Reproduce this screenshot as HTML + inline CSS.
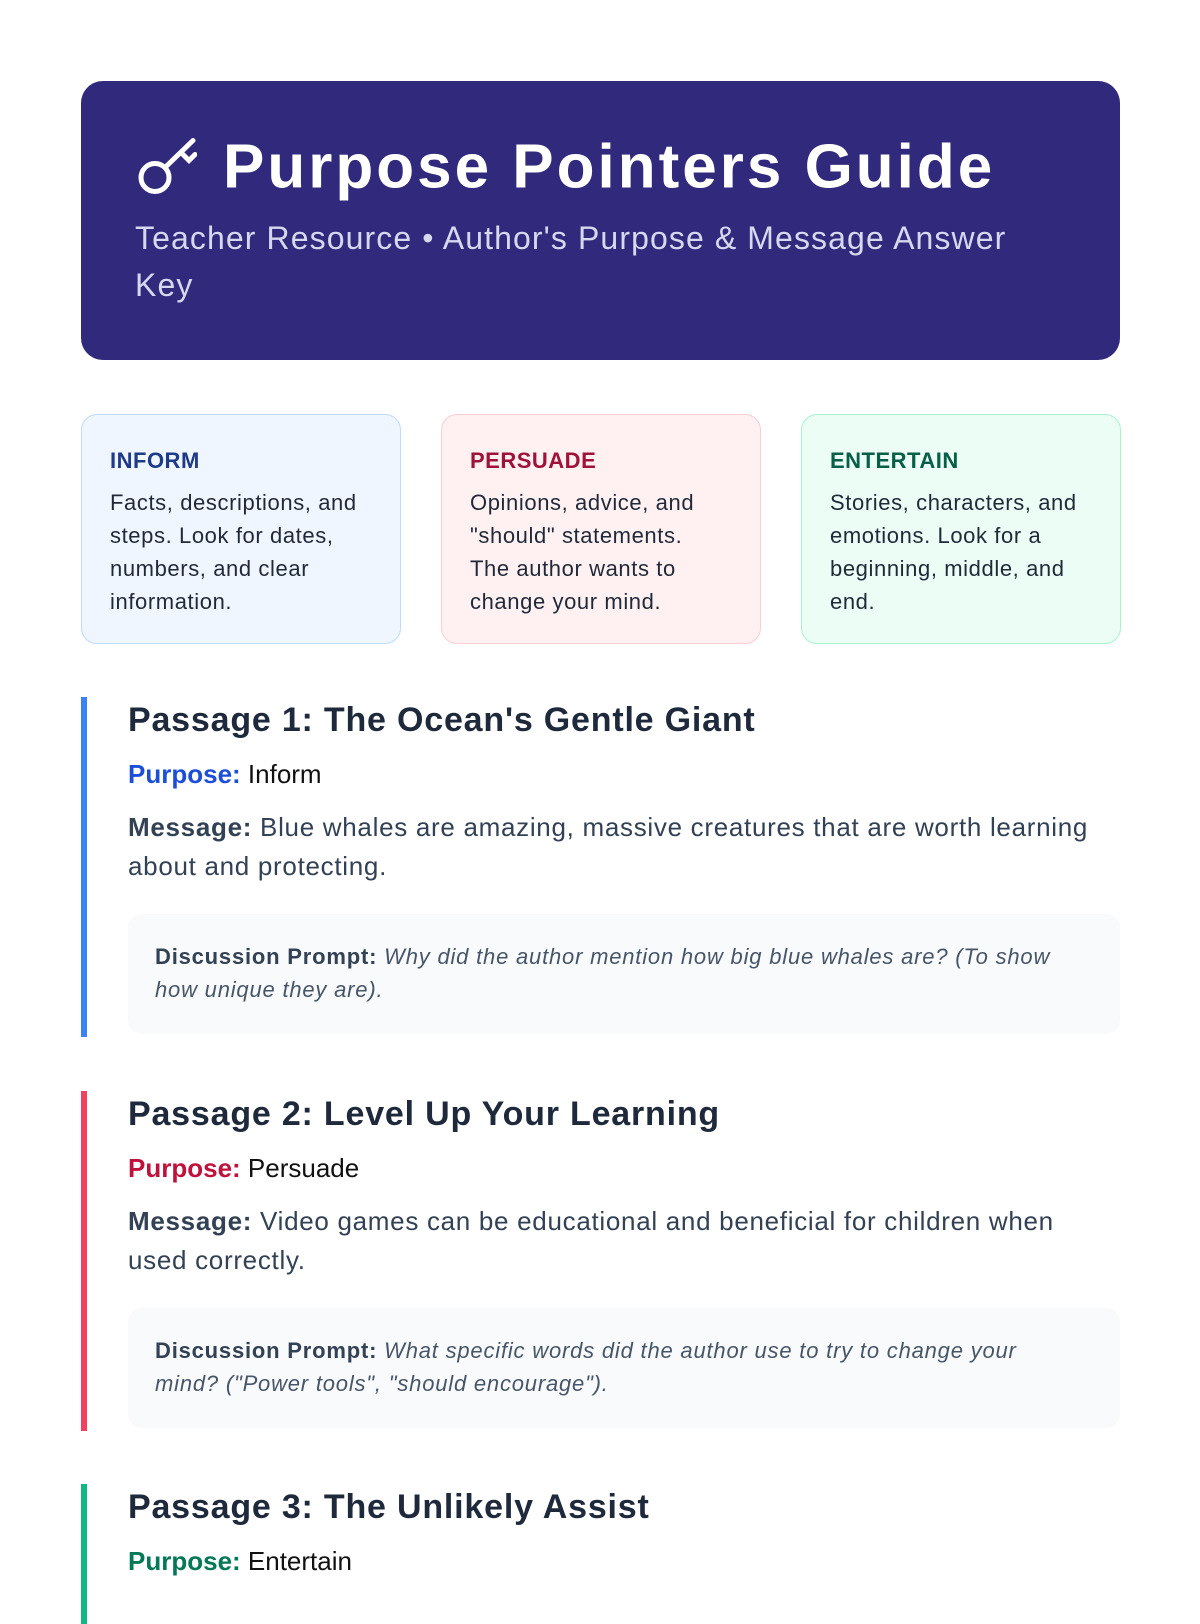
<!DOCTYPE html>
<html><head><meta charset="utf-8"><style>
*{box-sizing:border-box;margin:0;padding:0}
body{width:1200px;height:1600px;background:#fff;font-family:"Liberation Sans",sans-serif;overflow:hidden;position:relative;color:#1e293b}
.hdr{position:absolute;left:81px;top:81px;width:1039px;height:279px;background:#312a7c;border-radius:22px;color:#fff}
.hdr h1{position:absolute;left:54px;top:86px;transform:translateY(-50%);font-size:62px;font-weight:900;letter-spacing:3px;display:flex;align-items:center;gap:26px;white-space:nowrap}
.hdr .sub{position:absolute;left:54px;top:134px;width:920px;font-size:32px;line-height:47px;color:#d6d8f0;letter-spacing:1.1px}
.card{position:absolute;top:414px;width:320px;height:230px;border-radius:16px;padding:30px 40px 30px 28px;border:1.5px solid}
.card h3{font-size:22px;font-weight:bold;letter-spacing:0.5px;height:32px;line-height:32px}
.card p{font-size:22px;line-height:33px;margin-top:9px;color:#1f2937;letter-spacing:0.6px}
.p{position:absolute;left:81px;width:1039px;border-left:6px solid;padding-left:41px}
.p h2{font-size:34px;font-weight:bold;line-height:40px;padding-top:3px;color:#1e293b;letter-spacing:0.8px}
.pur{font-size:26px;line-height:36px;margin-top:16px;color:#111}
.msg{font-size:26px;line-height:39px;margin-top:16px;color:#334155;letter-spacing:0.7px}
.disc{margin-top:28px;background:#f8fafc;border-radius:14px;padding:26px 50px 26px 27px;font-size:22px;line-height:33px;color:#475569;height:120px;letter-spacing:0.8px}
.disc b{color:#334155}
.disc i{color:#475569}
</style></head><body>
<div class="hdr">
<h1><svg width="62" height="62" viewBox="0 0 62 62" fill="none" stroke="#fff" stroke-width="5" stroke-linecap="round"><circle cx="20" cy="41" r="14"/><path d="M30 31 L58 4"/><path d="M46 16 L54 24 L60 18"/></svg><span>Purpose Pointers Guide</span></h1>
<div class="sub">Teacher Resource • Author's Purpose &amp; Message Answer Key</div>
</div>
<div class="card" style="left:81px;background:#eff6ff;border-color:#bfdbfe"><h3 style="color:#1e3a8a">INFORM</h3><p>Facts, descriptions, and steps. Look for dates, numbers, and clear information.</p></div>
<div class="card" style="left:441px;background:#fff1f2;border-color:#fecdd3"><h3 style="color:#9f1239">PERSUADE</h3><p>Opinions, advice, and "should" statements. The author wants to change your mind.</p></div>
<div class="card" style="left:801px;background:#ecfdf5;border-color:#a7f3d0"><h3 style="color:#065f46">ENTERTAIN</h3><p>Stories, characters, and emotions. Look for a beginning, middle, and end.</p></div>

<div class="p" style="top:697px;border-color:#3b82f6;height:340px">
<h2>Passage 1: The Ocean's Gentle Giant</h2>
<div class="pur"><b style="color:#1d4ed8">Purpose:</b> Inform</div>
<div class="msg"><b>Message:</b> Blue whales are amazing, massive creatures that are worth learning about and protecting.</div>
<div class="disc"><b>Discussion Prompt:</b> <i>Why did the author mention how big blue whales are? (To show how unique they are).</i></div>
</div>
<div class="p" style="top:1091px;border-color:#f43f5e;height:340px">
<h2>Passage 2: Level Up Your Learning</h2>
<div class="pur"><b style="color:#be123c">Purpose:</b> Persuade</div>
<div class="msg"><b>Message:</b> Video games can be educational and beneficial for children when used correctly.</div>
<div class="disc"><b>Discussion Prompt:</b> <i>What specific words did the author use to try to change your mind? ("Power tools", "should encourage").</i></div>
</div>
<div class="p" style="top:1484px;border-color:#10b981;height:140px">
<h2>Passage 3: The Unlikely Assist</h2>
<div class="pur"><b style="color:#047857">Purpose:</b> Entertain</div>
</div>
</body></html>
